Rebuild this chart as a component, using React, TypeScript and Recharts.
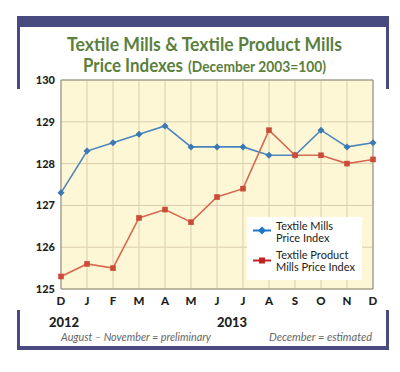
import { LineChart, Line, XAxis, YAxis, CartesianGrid, ReferenceLine } from 'recharts';

const months = ['D', 'J', 'F', 'M', 'A', 'M', 'J', 'J', 'A', 'S', 'O', 'N', 'D'];
const textileMills = [127.3, 128.3, 128.5, 128.7, 128.9, 128.4, 128.4, 128.4, 128.2, 128.2, 128.8, 128.4, 128.5];
const productMills = [125.3, 125.6, 125.5, 126.7, 126.9, 126.6, 127.2, 127.4, 128.8, 128.2, 128.2, 128.0, 128.1];
const yTicks = [125, 126, 127, 128, 129, 130];

const data = months.map((m, i) => ({ idx: i, month: m, mills: textileMills[i], product: productMills[i] }));
const xTicks = data.map((d) => d.idx);

const NAVY = '#474b7f';
const BLUE = '#4a85bd';
const RED = '#d66a50';
const FONT = 'Lato, "Open Sans", sans-serif';

const Diamond = (props: any) => {
  const { cx, cy, index } = props;
  if (cx == null || cy == null) return null;
  const r = 3.5;
  return <path key={`d-${index}`} d={`M${cx},${cy - r}L${cx + r},${cy}L${cx},${cy + r}L${cx - r},${cy}Z`} fill="#3b78b6" />;
};

const Square = (props: any) => {
  const { cx, cy, index } = props;
  if (cx == null || cy == null) return null;
  return <rect key={`s-${index}`} x={cx - 2.8} y={cy - 2.8} width={5.6} height={5.6} fill="#cc4b38" />;
};

// legend drawn as an overlay so it does not eat into the plot area
const LegendBox = () => (
  <div style={{ position: 'absolute', left: 247, top: 217, background: '#fff', width: 115, height: 63, fontFamily: FONT, fontSize: 11, color: '#222', lineHeight: '11.5px', whiteSpace: 'nowrap' }}>
    <svg width={20} height={63} style={{ position: 'absolute', left: 5, top: 0 }}>
      <line x1={1} x2={19} y1={13.5} y2={13.5} stroke="#1f75c6" strokeWidth={2} />
      <path d="M10,9.5L14,13.5L10,17.5L6,13.5Z" fill="#1f75c6" />
      <line x1={1} x2={19} y1={43.5} y2={43.5} stroke="#c42222" strokeWidth={2} />
      <rect x={7} y={40.5} width={6} height={6} fill="#c42222" />
    </svg>
    <div style={{ position: 'absolute', left: 29, top: 3 }}>Textile Mills<br />Price Index</div>
    <div style={{ position: 'absolute', left: 29, top: 32 }}>Textile Product<br />Mills Price Index</div>
  </div>
);

export default function App() {
  return (
    <div style={{ position: 'absolute', left: 0, top: 0, width: 400, height: 372, background: '#fff' }}>
      <div style={{ position: 'absolute', left: 17, top: 16, width: 372, height: 11, background: NAVY }} />
      <div style={{ position: 'absolute', left: 17, top: 16, width: 3, height: 73, background: NAVY }} />
      <div style={{ position: 'absolute', left: 386, top: 16, width: 3, height: 73, background: NAVY }} />
      <div style={{ position: 'absolute', left: 17, top: 310, width: 3, height: 40, background: NAVY }} />
      <div style={{ position: 'absolute', left: 386, top: 310, width: 3, height: 40, background: NAVY }} />
      <div style={{ position: 'absolute', left: 17, top: 346, width: 372, height: 4, background: NAVY }} />

      <div style={{ position: 'absolute', left: 0, top: 0 }}>
        <LineChart width={400} height={372} data={data} margin={{ top: 80, right: 27, bottom: 53, left: 20 }}>
          <CartesianGrid fill="#fef7d6" stroke="#d8cdaa" strokeWidth={1} />
          <XAxis
            dataKey="idx"
            type="number"
            domain={[0, 12]}
            ticks={xTicks}
            tickFormatter={(v: number) => months[v]}
            tickLine={false}
            axisLine={{ stroke: '#8d8a80' }}
            height={30}
            tick={{ fontFamily: FONT, fontSize: 11.5, fontWeight: 900, fill: '#1e1e1e' }}
            interval={0}
          />
          <YAxis
            domain={[125, 130]}
            ticks={yTicks}
            tickLine={false}
            axisLine={{ stroke: '#8d8a80' }}
            width={41}
            tickMargin={0}
            tick={{ fontFamily: FONT, fontSize: 11, fontWeight: 900, fill: '#1e1e1e' }}
          />
          <ReferenceLine y={130} stroke="#8d8a80" />
          <ReferenceLine x={12} stroke="#8d8a80" />
          <Line dataKey="mills" stroke={BLUE} strokeWidth={1.6} dot={Diamond} isAnimationActive={false} />
          <Line dataKey="product" stroke={RED} strokeWidth={1.6} dot={Square} isAnimationActive={false} />
        </LineChart>
      </div>

      <LegendBox />

      <svg width={400} height={372} style={{ position: 'absolute', left: 0, top: 0, pointerEvents: 'none' }}>
        <g fontFamily={FONT} fontWeight={700} fill="#5b7f3c">
          <text x={67} y={51} fontSize={18.5} textLength={275} lengthAdjust="spacingAndGlyphs">Textile Mills &amp; Textile Product Mills</text>
          <text x={83} y={72} fontSize={18.5} textLength={100} lengthAdjust="spacingAndGlyphs">Price Indexes</text>
          <text x={188} y={72} fontSize={15} textLength={138} lengthAdjust="spacingAndGlyphs">(December 2003=100)</text>
        </g>
        <g fontFamily={FONT} fontWeight={900} fontSize={13} fill="#1e1e1e">
          <text x={49} y={327}>2012</text>
          <text x={217} y={327}>2013</text>
        </g>
        <g fontFamily={FONT} fontStyle="italic" fontSize={11} fill="#666">
          <text x={61} y={341} textLength={150} lengthAdjust="spacingAndGlyphs">August – November = preliminary</text>
          <text x={372} y={341} textAnchor="end">December = estimated</text>
        </g>
      </svg>
    </div>
  );
}
